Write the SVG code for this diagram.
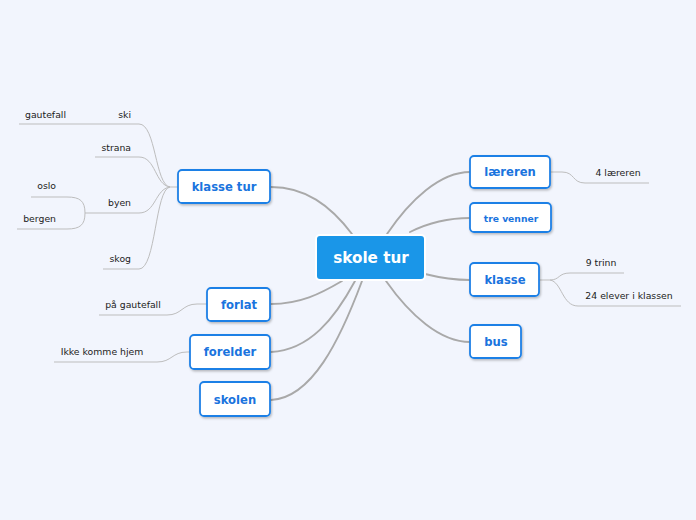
<svg xmlns="http://www.w3.org/2000/svg" width="696" height="520" viewBox="0 0 696 520">
<style>
.bg{fill:#f2f5fd}
.main{stroke:#a9a9a9;stroke-width:1.9;fill:none;stroke-linecap:round}
.sub{stroke:#bdbdbd;stroke-width:1;fill:none}
.node{fill:#ffffff;stroke:#1f80e6;stroke-width:1.8}
.nt{font-family:"DejaVu Sans",Verdana,sans-serif;font-weight:bold;font-size:11.6px;fill:#1a74de;text-anchor:middle}
.st{font-family:"DejaVu Sans",Verdana,sans-serif;font-size:9.3px;fill:#222}
.end{text-anchor:end}
.mid{text-anchor:middle}
</style>
<defs>
<filter id="sh" x="-20%" y="-20%" width="140%" height="160%">
<feDropShadow dx="1" dy="1.5" stdDeviation="1" flood-color="#000" flood-opacity="0.25"/>
</filter>
</defs>
<rect class="bg" x="0" y="0" width="696" height="520"/>
<g id="connectors">
<path class="main" d="M271 187 C305 187 330 205 352 234"/>
<path class="main" d="M271 304 C300 304 320 294 342 281"/>
<path class="main" d="M271 352 C310 350 335 318 355 281"/>
<path class="main" d="M271 400 C312 398 340 340 362 281"/>
<path class="main" d="M387 234 C410 200 440 172 470 172"/>
<path class="main" d="M410 232 C430 222 450 218 470 218"/>
<path class="main" d="M425 274 C445 279 455 280 470 280"/>
<path class="main" d="M386 281 C410 315 440 342 470 342"/>
<path class="sub" d="M178 187 L170 187 C155 185 156 124 139 124 L19 124"/>
<path class="sub" d="M170 187 C155 185 156 157 139 157 L95 157"/>
<path class="sub" d="M170 187 C155 189 156 213 139 213 L85 213"/>
<path class="sub" d="M85 213 C85 201 80 197 67 197 L31 197"/>
<path class="sub" d="M85 213 C85 225 80 229 67 229 L17 229"/>
<path class="sub" d="M170 187 C155 189 156 269 139 269 L103 269"/>
<path class="sub" d="M207 304 L197 304 C182 304 182 315 167 315 L99 315"/>
<path class="sub" d="M190 352 L187 352 C172 352 172 362 157 362 L54 362"/>
<path class="sub" d="M550 172 L562 172 C575 172 572 183 585 183 L649 183"/>
<path class="sub" d="M539 280 L550 280 C560 280 558 273 570 273 L624 273"/>
<path class="sub" d="M550 280 C562 282 562 306 578 306 L681 306"/>
</g>
<g id="center">
<rect x="316" y="235" width="109" height="45" rx="4" fill="#1a96e8" stroke="#ffffff" stroke-width="2"/>
<text x="371" y="263" font-family="DejaVu Sans,Verdana,sans-serif" font-weight="bold" font-size="15.2px" fill="#ffffff" text-anchor="middle">skole tur</text>
</g>
<g id="klasse-tur">
<rect class="node" filter="url(#sh)" x="178" y="170" width="92" height="33" rx="4"/>
<text class="nt" x="224" y="191">klasse tur</text>
</g>
<g id="forlat">
<rect class="node" filter="url(#sh)" x="207" y="288" width="63" height="33" rx="4"/>
<text class="nt" x="239" y="309">forlat</text>
</g>
<g id="forelder">
<rect class="node" filter="url(#sh)" x="190" y="335" width="80" height="34" rx="4"/>
<text class="nt" x="230" y="356">forelder</text>
</g>
<g id="skolen">
<rect class="node" filter="url(#sh)" x="200" y="382" width="70" height="34" rx="4"/>
<text class="nt" x="235" y="404">skolen</text>
</g>
<g id="laereren">
<rect class="node" filter="url(#sh)" x="470" y="156" width="80" height="32" rx="4"/>
<text class="nt" x="510" y="176">læreren</text>
</g>
<g id="tre-venner">
<rect class="node" filter="url(#sh)" x="470" y="203" width="81" height="29" rx="4"/>
<text class="nt" x="511" y="221.5" style="font-size:9.2px">tre venner</text>
</g>
<g id="klasse">
<rect class="node" filter="url(#sh)" x="470" y="263" width="69" height="33" rx="4"/>
<text class="nt" x="505" y="284">klasse</text>
</g>
<g id="bus">
<rect class="node" filter="url(#sh)" x="470" y="325" width="51" height="33" rx="4"/>
<text class="nt" x="496" y="346">bus</text>
</g>
<g id="labels">
<text class="st end" x="131" y="118">ski</text>
<text class="st end" x="66" y="118">gautefall</text>
<text class="st end" x="131" y="151">strana</text>
<text class="st end" x="131" y="206">byen</text>
<text class="st end" x="56" y="189">oslo</text>
<text class="st end" x="56" y="222">bergen</text>
<text class="st end" x="131" y="262">skog</text>
<text class="st mid" x="133" y="308">på gautefall</text>
<text class="st mid" x="102" y="355">Ikke komme hjem</text>
<text class="st mid" x="618" y="176">4 læreren</text>
<text class="st mid" x="601" y="266">9 trinn</text>
<text class="st mid" x="629" y="299">24 elever i klassen</text>
</g>
</svg>
